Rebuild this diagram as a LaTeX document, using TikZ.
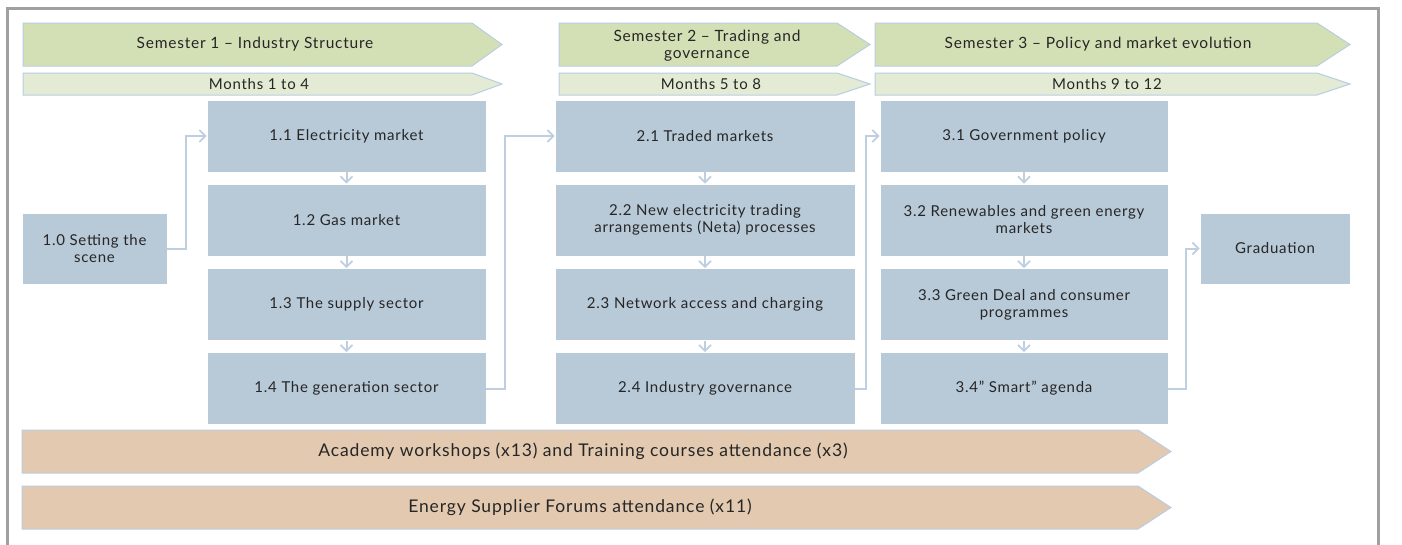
\documentclass[tikz,border=0pt]{standalone}
\usepackage{fontspec}
\setmainfont[LetterSpace=5]{Lato}
\usetikzlibrary{arrows.meta}
\definecolor{semg}{HTML}{D3E0B6}
\definecolor{mong}{HTML}{E3EBD4}
\definecolor{boxb}{HTML}{B8C9D8}
\definecolor{tanfill}{HTML}{E2C9B0}
\definecolor{edgeb}{HTML}{B9CDE2}
\definecolor{connc}{HTML}{BFCFDF}
\definecolor{txtc}{HTML}{262626}
\definecolor{framec}{HTML}{A0A0A0}
\tikzset{
  semchev/.style={fill=semg, draw=edgeb, line width=1pt},
  monchev/.style={fill=mong, draw=edgeb, line width=1pt},
  tanchev/.style={fill=tanfill, draw=edgeb, line width=1pt},
  lbl/.style={text=txtc, font=\fontsize{15}{17}\selectfont, align=center, inner sep=0pt},
  semlbl/.style={lbl, font=\fontsize{15.5}{17}\selectfont},
  biglbl/.style={lbl, font=\fontsize{17.5}{20}\selectfont},
  stepbox/.style={fill=boxb, draw=white, line width=0.6pt, text=txtc, font=\fontsize{15}{17}\selectfont, align=center, minimum height=72pt, inner sep=2pt},
  conn/.style={draw=connc, line width=2pt, -{Straight Barb[length=6pt,width=12pt,line width=1.8pt]}}
}
\newcommand\mychev[6]{\path[#1] (#2,#5) -- (#3,#5) -- (#4,{(#5+#6)/2}) -- (#3,#6) -- (#2,#6) -- cycle;}
\begin{document}
\begin{tikzpicture}[x=1pt,y=-1pt]
\useasboundingbox (0,0) rectangle (1402,544);
\draw[framec, line width=3pt] (7,8) rectangle (1378,570);
% header chevrons
\mychev{semchev}{23}{472}{502}{23}{66}
\mychev{monchev}{23}{472}{502}{73}{95}
\mychev{semchev}{559}{837}{870}{23}{66}
\mychev{monchev}{559}{837}{870}{73}{95}
\mychev{semchev}{875}{1317}{1350}{23}{66}
\mychev{monchev}{875}{1317}{1350}{73}{95}
\mychev{tanchev}{22}{1138}{1171}{430}{473}
\mychev{tanchev}{22}{1138}{1171}{486}{529}
\node[semlbl] (sem1) at (255,44.5) {Semester 1 -- Industry Structure};
\node[lbl] (mon1) at (259,84) {Months 1 to 4};
\node[semlbl] (sem2) at (707,45.5) {Semester 2 -- Trading and\\governance};
\node[lbl] (mon2) at (711,84) {Months 5 to 8};
\node[semlbl] (sem3) at (1098,44.5) {Semester 3 -- Policy and market evolution};
\node[lbl] (mon3) at (1107,84) {Months 9 to 12};
\node[biglbl] (acad) at (583,451.5) {Academy workshops (x13) and Training courses attendance (x3)};
\node[biglbl] (forum) at (580,507.5) {Energy Supplier Forums attendance (x11)};
% boxes
\node[stepbox, minimum width=145pt, minimum height=71pt] (b10) at (94.5,248.5) {1.0 Setting the\\scene};
\node[stepbox, minimum width=279pt] (b11) at (346.5,136) {1.1 Electricity market};
\node[stepbox, minimum width=279pt] (b12) at (346.5,220) {1.2 Gas market};
\node[stepbox, minimum width=279pt] (b13) at (346.5,304.5) {1.3 The supply sector};
\node[stepbox, minimum width=279pt] (b14) at (346.5,388.5) {1.4 The generation sector};
\node[stepbox, minimum width=300pt] (b21) at (705,136) {2.1 Traded markets};
\node[stepbox, minimum width=300pt] (b22) at (705,220) {2.2 New electricity trading\\arrangements (Neta) processes};
\node[stepbox, minimum width=300pt] (b23) at (705,304.5) {2.3 Network access and charging};
\node[stepbox, minimum width=300pt] (b24) at (705,388.5) {2.4 Industry governance};
\node[stepbox, minimum width=288pt] (b31) at (1024,136) {3.1 Government policy};
\node[stepbox, minimum width=288pt] (b32) at (1024,220) {3.2 Renewables and green energy\\markets};
\node[stepbox, minimum width=288pt] (b33) at (1024,304.5) {3.3 Green Deal and consumer\\programmes};
\node[stepbox, minimum width=288pt] (b34) at (1024,388.5) {3.4'' Smart'' agenda};
\node[stepbox, minimum width=150pt, minimum height=71pt] (grad) at (1275,248.5) {Graduation};
% connectors
\draw[conn] (b10.east) -- ++(19,0) |- (b11.west);
\draw[conn] (b11) -- (b12);
\draw[conn] (b12) -- (b13);
\draw[conn] (b13) -- (b14);
\draw[conn] (b14.east) -- ++(19,0) |- (b21.west);
\draw[conn] (b21) -- (b22);
\draw[conn] (b22) -- (b23);
\draw[conn] (b23) -- (b24);
\draw[conn] (b24.east) -- ++(11,0) |- (b31.west);
\draw[conn] (b31) -- (b32);
\draw[conn] (b32) -- (b33);
\draw[conn] (b33) -- (b34);
\draw[conn] (b34.east) -- ++(18,0) |- (grad.west);
\end{tikzpicture}
\end{document}
